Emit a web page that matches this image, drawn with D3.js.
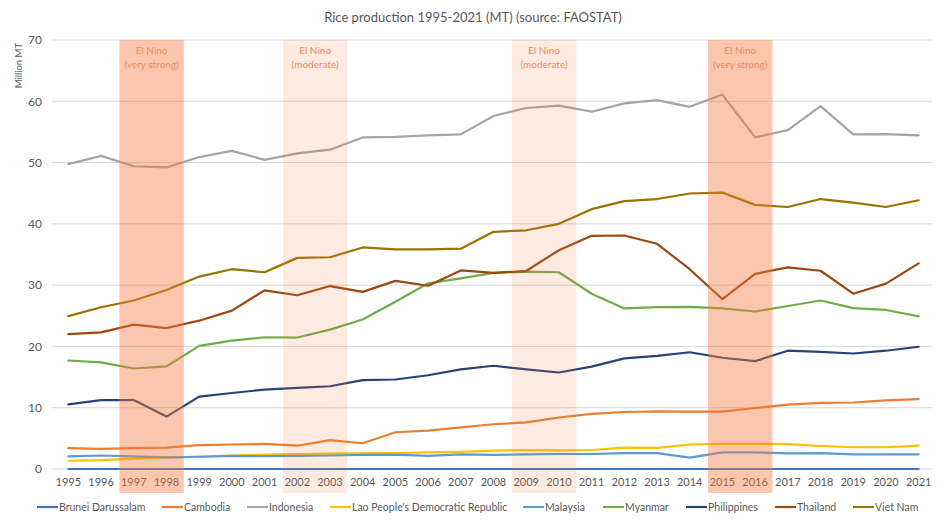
<!DOCTYPE html>
<html><head><meta charset="utf-8">
<script src="https://cdn.jsdelivr.net/npm/d3@7"></script>
<style>
html,body{margin:0;padding:0;background:#fff;}
svg{display:block;font-family:Lato,"Open Sans",sans-serif;}
</style></head>
<body><svg id="chart" width="950" height="526"></svg>
<script>
const years = [1995,1996,1997,1998,1999,2000,2001,2002,2003,2004,2005,2006,2007,2008,2009,2010,2011,2012,2013,2014,2015,2016,2017,2018,2019,2020,2021];
const yTicks = [0,10,20,30,40,50,60,70];

const seriesNames = ["Brunei Darussalam","Cambodia","Indonesia","Lao People's Democratic Republic","Malaysia","Myanmar","Philippines","Thailand","Viet Nam"];
const seriesColors = ["#4472C4","#ED7D31","#A5A5A5","#FFC000","#5B9BD5","#70AD47","#264478","#9E480E","#997300"];

const brunei = [0.001,0.001,0.001,0.001,0.001,0.001,0.001,0.001,0.001,0.001,0.001,0.001,0.001,0.001,0.002,0.002,0.002,0.002,0.002,0.002,0.002,0.002,0.002,0.002,0.002,0.002,0.002];
const cambodia = [3.4,3.3,3.4,3.5,3.9,4.0,4.1,3.8,4.7,4.2,6.0,6.25,6.8,7.3,7.6,8.4,9.0,9.3,9.4,9.35,9.35,9.95,10.5,10.8,10.85,11.2,11.4];
const indonesia = [49.75,51.1,49.4,49.2,50.9,51.9,50.45,51.5,52.1,54.1,54.2,54.45,54.6,57.6,58.9,59.3,58.3,59.65,60.2,59.1,61.1,54.1,55.3,59.2,54.6,54.65,54.45];
const lao = [1.35,1.45,1.7,1.85,2.0,2.2,2.35,2.45,2.5,2.55,2.6,2.7,2.8,3.0,3.1,3.05,3.1,3.5,3.45,4.0,4.1,4.1,4.05,3.75,3.55,3.55,3.8];
const malaysia = [2.05,2.2,2.05,1.9,2.0,2.15,2.1,2.15,2.2,2.3,2.35,2.15,2.4,2.3,2.4,2.45,2.45,2.6,2.6,1.85,2.7,2.7,2.55,2.6,2.4,2.4,2.4];
const myanmar = [17.7,17.4,16.4,16.75,20.1,20.95,21.5,21.45,22.75,24.4,27.3,30.3,31.1,32.0,32.2,32.1,28.6,26.2,26.4,26.45,26.2,25.7,26.6,27.5,26.25,25.95,24.9];
const philippines = [10.55,11.25,11.25,8.55,11.8,12.4,12.95,13.25,13.5,14.5,14.6,15.3,16.25,16.85,16.25,15.75,16.7,18.05,18.45,19.05,18.15,17.6,19.3,19.1,18.85,19.3,19.95];
const thailand = [22.0,22.3,23.55,23.0,24.2,25.85,29.15,28.35,29.85,28.9,30.7,29.9,32.4,32.0,32.3,35.7,38.05,38.1,36.75,32.6,27.7,31.85,32.9,32.35,28.6,30.25,33.55];
const vietnam = [24.95,26.4,27.5,29.2,31.4,32.6,32.1,34.45,34.55,36.15,35.85,35.85,35.95,38.7,38.95,40.0,42.4,43.7,44.05,44.95,45.1,43.1,42.75,44.05,43.45,42.75,43.85];

const seriesValues = [brunei,cambodia,indonesia,lao,malaysia,myanmar,philippines,thailand,vietnam];

const elNinoStart = [1997,2002,2009,2015];
const elNinoEnd = [1998,2003,2010,2016];
const elNinoLabel = ["(very strong)","(moderate)","(moderate)","(very strong)"];
const elNinoStrong = [true,false,false,true];

const svg = d3.select("#chart");
const plot = {left:52, right:935, top:40, bottom:469};

const x = d3.scaleBand().domain(years).range([plot.left, plot.right]).padding(0);
const y = d3.scaleLinear().domain([0,70]).range([plot.bottom, plot.top]);
const cx = d => x(d) + x.bandwidth()/2;

// title
svg.append("text").attr("x", 473).attr("y", 22).attr("text-anchor","middle")
  .attr("font-size", 13).attr("fill","#595959").text("Rice production 1995-2021 (MT) (source: FAOSTAT)");

// gridlines
svg.append("g").selectAll("line").data(yTicks).join("line")
  .attr("x1", plot.left).attr("x2", plot.right - 3)
  .attr("y1", d => y(d)).attr("y2", d => y(d))
  .attr("stroke", "#D9D9D9").attr("stroke-width", 1);

// y axis
const yAxis = d3.axisLeft(y).tickValues(yTicks).tickSize(0).tickPadding(10);
const yg = svg.append("g").attr("transform", `translate(${plot.left},0)`).call(yAxis);
yg.select(".domain").remove();
yg.selectAll("text").attr("font-size", 12).attr("fill", "#595959").attr("font-family","Lato,'Open Sans',sans-serif");

// x axis
const xAxis = d3.axisBottom(x).tickSize(0).tickPadding(9);
const xg = svg.append("g").attr("transform", `translate(0,${plot.bottom})`).call(xAxis);
xg.select(".domain").remove();
xg.selectAll("text").attr("font-size", 11).attr("fill", "#595959").attr("font-family","Lato,'Open Sans',sans-serif");

// y label
svg.append("text").attr("transform", "translate(22,43) rotate(-90)").attr("text-anchor","end")
  .attr("font-size", 9.5).attr("fill", "#595959").text("Million MT");

// lines
const line = d3.line().x((d,i) => cx(years[i])).y(d => y(d));
svg.append("g").selectAll("path").data(seriesValues).join("path")
  .attr("d", d => line(d))
  .attr("fill","none")
  .attr("stroke", (d,i) => seriesColors[i])
  .attr("stroke-width", 2.2)
  .attr("stroke-linejoin","round")
  .attr("stroke-linecap","round");

// El Nino shading (on top, translucent)
const bands = svg.append("g");
elNinoStart.forEach((s,i) => {
  const x0 = x(s) + 2;
  const x1 = x(elNinoEnd[i]) + x.bandwidth() + 1;
  bands.append("rect").attr("x", x0).attr("y", plot.top).attr("width", x1 - x0).attr("height", 493 - plot.top)
    .attr("fill", "#F47A3F").attr("fill-opacity", elNinoStrong[i] ? 0.42 : 0.15);
  const mx = (x0 + x1)/2;
  bands.append("text").attr("x", mx).attr("y", 54).attr("text-anchor","middle")
    .attr("font-size", 10).attr("fill","#E98D5E").text("El Nino");
  bands.append("text").attr("x", mx).attr("y", 68).attr("text-anchor","middle")
    .attr("font-size", 10).attr("fill","#E98D5E").text(elNinoLabel[i]);
});

// legend
const legendX = [37,162,247,330,523,603,686,775,853];
const lg = svg.append("g");
seriesNames.forEach((n,i) => {
  const g = lg.append("g").attr("transform", `translate(${legendX[i]},507)`);
  g.append("line").attr("x1",0).attr("x2",21).attr("y1",0).attr("y2",0)
    .attr("stroke", seriesColors[i]).attr("stroke-width", 2.2);
  g.append("text").attr("x", 22).attr("y", 0).attr("dy","0.35em")
    .attr("font-size", 10.5).attr("fill","#595959").text(n);
});
</script>
</body></html>
